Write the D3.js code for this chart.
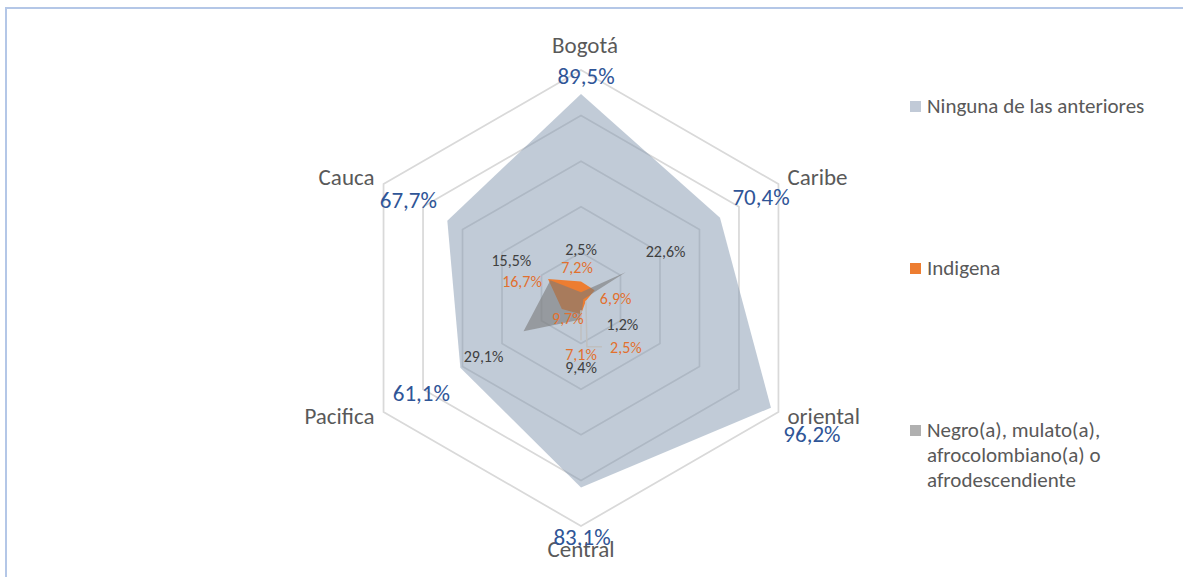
<!DOCTYPE html>
<html lang="es">
<head>
<meta charset="UTF-8">
<title>Radar</title>
<script src="https://d3js.org/d3.v7.min.js"></script>
<style>
  body { margin: 0; background: #fff; }
  svg { display: block; font-family: Carlito, Calibri, Lato, sans-serif; }
</style>
</head>
<body>
<svg id="chart" width="1183" height="577"></svg>
<script>
// categories, clockwise from the top
const regiones = ["Bogotá", "Caribe", "oriental", "Central", "Pacifica", "Cauca"];

// series values (%)
const ninguna  = [89.5, 70.4, 96.2, 83.1, 61.1, 67.7];
const indigena = [7.2, 6.9, 2.5, 7.1, 9.7, 16.7];
const negro    = [2.5, 22.6, 1.2, 9.4, 29.1, 15.5];

const seriesNames = [
    ["Ninguna de las anteriores"],
    ["Indigena"],
    ["Negro(a), mulato(a),", "afrocolombiano(a) o", "afrodescendiente"]
];

const ringTicks = [20, 40, 60, 80, 100];

// layout
const cx = 581, cy = 298, R = 228;
const svg = d3.select("#chart");

const r = d3.scaleLinear().domain([0, 100]).range([0, R]);
const angle = d3.scalePoint().domain(d3.range(regiones.length)).range([0, 2 * Math.PI * 5 / 6]);

function pt(i, v) {
    const a = angle(i);
    return [cx + r(v) * Math.sin(a), cy - r(v) * Math.cos(a)];
}
const fmt = v => v.toFixed(1).replace(".", ",") + "%";

// chart border
svg.append("rect")
    .attr("x", 6).attr("y", 8)
    .attr("width", 1200).attr("height", 600)
    .attr("fill", "none")
    .attr("stroke", "#B4C7E7")
    .attr("stroke-width", 2);

const g = svg.append("g").attr("transform", `translate(${cx},${cy})`);

// grid rings
const ring = d3.lineRadial()
    .angle((d, i) => angle(i))
    .radius(d => r(d))
    .curve(d3.curveLinearClosed);

g.selectAll(".ring")
    .data(ringTicks)
    .join("path")
    .attr("class", "ring")
    .attr("d", t => ring(regiones.map(() => t)))
    .attr("fill", "none")
    .attr("stroke", "#D9D9D9")
    .attr("stroke-width", 1.75);

// series
const series = [
    { values: ninguna,  fill: "#8497B0", opacity: 0.5 },
    { values: indigena, fill: "#ED7D31", opacity: 1 },
    { values: negro,    fill: "#7A7A7A", opacity: 0.6 }
];

g.selectAll(".serie")
    .data(series)
    .join("path")
    .attr("class", "serie")
    .attr("d", s => ring(s.values))
    .attr("fill", s => s.fill)
    .attr("fill-opacity", s => s.opacity)
    .attr("stroke", "none");

// leader lines (Indigena oriental & Central)
const leader = d3.line();
const pOr = pt(2, indigena[2]);
const pCe = pt(3, indigena[3]);
svg.append("path")
    .attr("d", leader([pOr, [pOr[0] + 1, pOr[1] + 46], [pOr[0] + 16, pOr[1] + 46]]))
    .attr("fill", "none").attr("stroke", "#BFBFBF").attr("stroke-width", 1.5);
svg.append("path")
    .attr("d", leader([[pCe[0], pCe[1] - 4], [pCe[0], pCe[1] + 26]]))
    .attr("fill", "none").attr("stroke", "#BFBFBF").attr("stroke-width", 1.5);

// category labels
svg.selectAll(".cat")
    .data(regiones)
    .join("text")
    .attr("class", "cat")
    .each(function(d, i) {
        const a = angle(i);
        const [x, y] = pt(i, 100);
        const s = Math.sin(a), c = Math.cos(a);
        const sel = d3.select(this);
        if (Math.abs(s) < 0.01) {
            sel.attr("x", x + (c > 0 ? 4 : 0))
               .attr("y", c > 0 ? y - 17 : y + 31)
               .attr("text-anchor", "middle");
        } else {
            sel.attr("x", x + (s > 0 ? 9 : -9))
               .attr("y", c > 0 ? y + 1 : y + 12)
               .attr("text-anchor", s > 0 ? "start" : "end");
        }
    })
    .attr("font-size", 23)
    .attr("fill", "#595959")
    .text(d => d);

// data labels: offsets (px) from each point
const labelOffsets = [
    [[5, -18], [41, -21], [41, 26], [1, 49], [-39, 25], [-39, -21]],
    [[-4, -14], [21, 8], [40, 47], [0, 40], [6, 9], [-26, 2]],
    [[0, -43], [40, -21], [39, 25], [0, 48], [-40, 25], [-39, -20]]
];
const labelStyle = [
    { color: "#2F5597", size: 23 },
    { color: "#E2702E", size: 16 },
    { color: "#404040", size: 16 }
];

series.forEach((s, k) => {
    svg.append("g")
        .selectAll("text")
        .data(s.values)
        .join("text")
        .attr("x", (v, i) => pt(i, v)[0] + labelOffsets[k][i][0])
        .attr("y", (v, i) => pt(i, v)[1] + labelOffsets[k][i][1])
        .attr("dy", "0.35em")
        .attr("text-anchor", "middle")
        .attr("font-size", labelStyle[k].size)
        .attr("fill", labelStyle[k].color)
        .text(fmt);
});

// legend
const legendColors = ["#C1CAD7", "#ED7D31", "#B0B0B0"];
const legendY = d3.scalePoint().domain(d3.range(3)).range([106, 430]);
const legend = svg.append("g");
seriesNames.forEach((lines, k) => {
    legend.append("rect")
        .attr("x", 910).attr("y", legendY(k) - 5)
        .attr("width", 11).attr("height", 11)
        .attr("fill", legendColors[k]);
    const t = legend.append("text")
        .attr("x", 927).attr("y", legendY(k))
        .attr("font-size", 21)
        .attr("fill", "#595959");
    lines.forEach((line, j) => {
        t.append("tspan")
            .attr("x", 927)
            .attr("dy", j === 0 ? "0.35em" : 25)
            .text(line);
    });
});
</script>
</body>
</html>
